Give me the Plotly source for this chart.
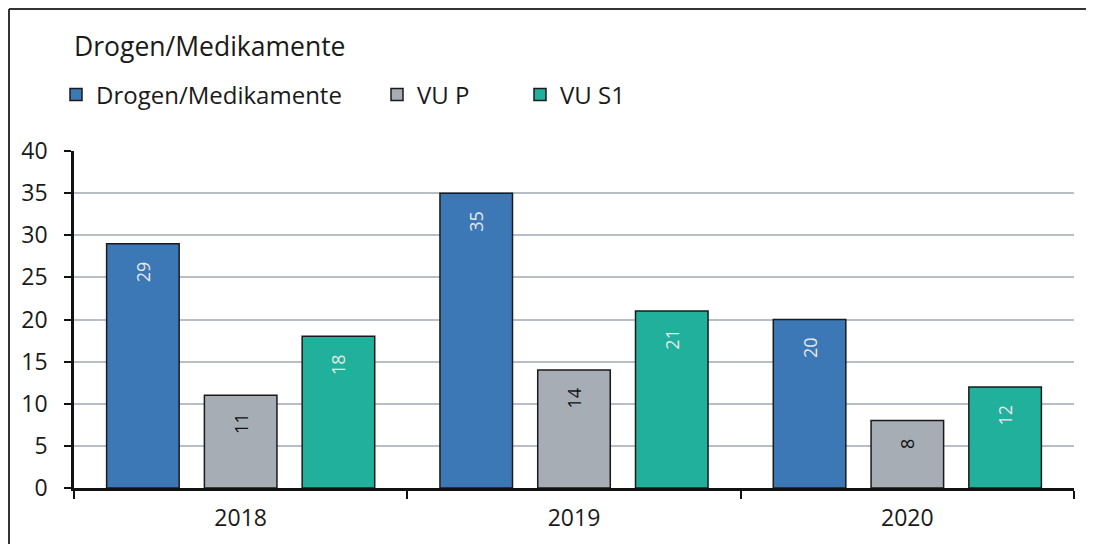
import plotly.graph_objects as go

years = ["2018", "2019", "2020"]
series_names = ["Drogen/Medikamente", "VU P", "VU S1"]
drogen = [29, 35, 20]
vu_p = [11, 14, 8]
vu_s1 = [18, 21, 12]
colors = ["#3c78b6", "#a6adb5", "#20b09c"]
text_colors = ["#e8e8e8", "#111111", "#e8e8e8"]
values = [drogen, vu_p, vu_s1]
legend_ids = ["legend", "legend2", "legend3"]

FONT = "'Open Sans', 'Noto Sans', sans-serif"

fig = go.Figure()
for name, vals, col, tcol, lg in zip(series_names, values, colors, text_colors, legend_ids):
    fig.add_trace(go.Bar(
        x=years, y=vals, name=name, legend=lg, showlegend=True,
        marker=dict(color=col, line=dict(color="#1a1a1a", width=1.5)),
        text=[str(v) + "\u2002\u2004" for v in vals],
        textposition="inside", insidetextanchor="end", textangle=-90,
        textfont=dict(size=18, color=tcol, family=FONT),
        cliponaxis=False,
    ))

# figure coordinates (the page adds an 8px body margin)
W, H = 1094, 544
L, R, T, B = 66, 28, 143, 64

legend_common = dict(orientation="h", yanchor="middle", xanchor="left",
                     xref="container", yref="container",
                     font=dict(size=24, family=FONT, color="#1a1a1a"),
                     bgcolor="rgba(0,0,0,0)", itemwidth=30)

fig.update_layout(
    width=W, height=H,
    margin=dict(l=L, r=R, t=T, b=B, autoexpand=False),
    paper_bgcolor="white", plot_bgcolor="white",
    showlegend=True,
    barmode="group", bargap=0.12, bargroupgap=0.258,
    font=dict(family=FONT, color="#1a1a1a"),
    title=dict(text="Drogen/Medikamente", xref="container", yref="container",
               x=66 / W, xanchor="left", y=1 - 39 / H, yanchor="middle",
               font=dict(size=26.5, family=FONT, color="#1a1a1a")),
    legend=dict(x=48 / W, y=1 - 87 / H, **legend_common),
    legend2=dict(x=369 / W, y=1 - 87 / H, **legend_common),
    legend3=dict(x=512 / W, y=1 - 87 / H, **legend_common),
    yaxis=dict(range=[0, 40], dtick=5, showgrid=True, gridcolor="#b8bec8", gridwidth=1.5,
               showline=True, linecolor="#111111", linewidth=2.5,
               ticks="outside", ticklen=7, tickwidth=2, tickcolor="#111111",
               ticklabelstandoff=12,
               tickfont=dict(size=23, family=FONT, color="#1a1a1a"), zeroline=False,
               automargin=False),
    xaxis=dict(type="category", showline=True, linecolor="#111111", linewidth=2.5,
               ticks="outside", tickson="boundaries", ticklen=8, tickwidth=2,
               tickcolor="#111111", showgrid=False, automargin=False,
               ticklabelstandoff=8,
               tickfont=dict(size=23, family=FONT, color="#1a1a1a")),
    uniformtext=dict(minsize=18, mode="show"),
)

pw, ph = W - L - R, H - T - B

def px_x(p):
    return (p - L) / pw

def px_y(p):
    return (H - B - p) / ph

# outer frame (left and top edges)
fig.add_shape(type="line", xref="paper", yref="paper",
              x0=px_x(1), x1=px_x(1), y0=px_y(1), y1=px_y(544),
              line=dict(color="#333333", width=2))
fig.add_shape(type="line", xref="paper", yref="paper",
              x0=px_x(1), x1=px_x(1094), y0=px_y(1), y1=px_y(1),
              line=dict(color="#333333", width=2))

fig.write_html("out.html")
